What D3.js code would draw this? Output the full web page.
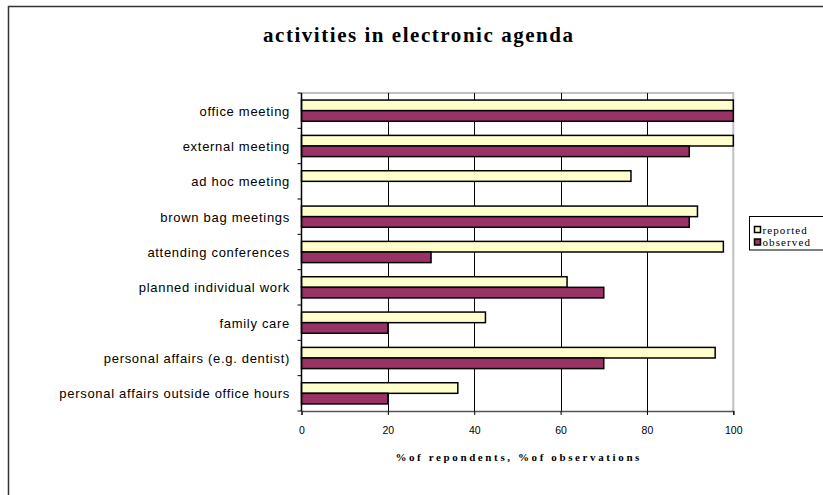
<!DOCTYPE html>
<html>
<head>
<meta charset="utf-8">
<script src="https://cdn.jsdelivr.net/npm/d3@7"></script>
<style>
  html, body { margin: 0; padding: 0; background: #fff; }
  svg { display: block; }
</style>
</head>
<body>
<svg id="chart" width="823" height="495"></svg>
<script>
// Activities recorded in the electronic agenda
const categories = [
  "office meeting",
  "external meeting",
  "ad hoc meeting",
  "brown bag meetings",
  "attending conferences",
  "planned individual work",
  "family care",
  "personal affairs (e.g. dentist)",
  "personal affairs outside office hours"
];
const seriesNames = ["reported", "observed"];
const reported = [100, 100, 76.3, 91.7, 97.7, 61.5, 42.6, 95.8, 36.2];
const observed = [100, 89.8, 0, 89.8, 30, 70, 20, 70, 20];
const xTicks = [0, 20, 40, 60, 80, 100];
const colors = ["#FFFFCC", "#993366"];

const svg = d3.select("#chart");

// outer chart frame
svg.append("rect")
  .attr("x", 8.5).attr("y", 6.5)
  .attr("width", 830).attr("height", 500)
  .attr("fill", "#fff")
  .attr("stroke", "#333").attr("stroke-width", 1.5);

const plot = { left: 301.5, right: 733.3, top: 93, bottom: 411 };

const x = d3.scaleLinear().domain([0, 100]).range([plot.left, plot.right]);
const y = d3.scaleBand().domain(categories).range([plot.top, plot.bottom])
  .paddingInner(0.4).paddingOuter(0.2);
const ySub = d3.scaleBand().domain(seriesNames).range([0, y.bandwidth()]);

// plot area border (top and right)
svg.append("path")
  .attr("d", `M${plot.left},${plot.top}H${plot.right}V${plot.bottom}`)
  .attr("fill", "none").attr("stroke", "#c0c0c0").attr("stroke-width", 2);

// vertical gridlines
svg.append("g").selectAll("line")
  .data(xTicks.filter(t => t > 0 && t < 100))
  .join("line")
  .attr("x1", d => Math.round(x(d)) + 0.5).attr("x2", d => Math.round(x(d)) + 0.5)
  .attr("y1", plot.top).attr("y2", plot.bottom)
  .attr("stroke", "#000").attr("stroke-width", 1);

// bars
const table = categories.map((c, i) => ({ cat: c, values: [reported[i], observed[i]] }));
const groups = svg.append("g").selectAll("g")
  .data(table).join("g")
  .attr("transform", d => `translate(0,${y(d.cat)})`);
groups.selectAll("rect")
  .data(d => d.values.map((v, j) => ({ key: seriesNames[j], v, j })).filter(e => e.v > 0))
  .join("rect")
  .attr("x", x(0))
  .attr("y", d => ySub(d.key))
  .attr("width", d => x(d.v) - x(0))
  .attr("height", ySub.bandwidth())
  .attr("fill", d => colors[d.j])
  .attr("stroke", "#000").attr("stroke-width", 1.5);

// bottom axis
const xAxis = svg.append("g")
  .attr("transform", `translate(0,${plot.bottom})`)
  .call(d3.axisBottom(x).tickValues(xTicks).tickSize(4).tickPadding(12).tickFormat(d3.format("d")));
xAxis.select(".domain").attr("stroke", "#555").attr("stroke-width", 1.5);
xAxis.selectAll(".tick line").attr("stroke", "#000");
xAxis.selectAll("text")
  .attr("font-family", "Liberation Sans, Arial, sans-serif")
  .attr("font-size", 10.5).attr("fill", "#000");

// left axis: line with ticks at the category boundaries
const yAxis = svg.append("g");
yAxis.append("line")
  .attr("x1", plot.left).attr("x2", plot.left)
  .attr("y1", plot.top).attr("y2", plot.bottom)
  .attr("stroke", "#000").attr("stroke-width", 1.5);
const boundaries = d3.range(categories.length + 1).map(i => plot.top + i * (plot.bottom - plot.top) / categories.length);
yAxis.selectAll("line.tick")
  .data(boundaries).join("line")
  .attr("class", "tick")
  .attr("x1", plot.left - 4).attr("x2", plot.left)
  .attr("y1", d => d).attr("y2", d => d)
  .attr("stroke", "#000").attr("stroke-width", 1);

// category labels
svg.append("g").selectAll("text")
  .data(categories).join("text")
  .attr("x", 290)
  .attr("y", d => y(d) + y.bandwidth() / 2)
  .attr("dy", "0.38em")
  .attr("text-anchor", "end")
  .attr("font-family", "Liberation Sans, Arial, sans-serif")
  .attr("font-size", 13)
  .attr("letter-spacing", 0.7)
  .attr("fill", "#000")
  .text(d => d);

// title
svg.append("text")
  .attr("x", 418).attr("y", 42)
  .attr("text-anchor", "middle")
  .attr("font-family", "Liberation Serif, Times New Roman, serif")
  .attr("font-weight", "bold").attr("font-size", 21)
  .attr("textLength", 310).attr("lengthAdjust", "spacing")
  .text("activities in electronic agenda");

// axis title
svg.append("text")
  .attr("x", (plot.left + plot.right) / 2).attr("y", 461)
  .attr("text-anchor", "middle")
  .attr("font-family", "Liberation Serif, Times New Roman, serif")
  .attr("font-weight", "bold").attr("font-size", 11)
  .attr("textLength", 244).attr("lengthAdjust", "spacing")
  .text("%of repondents, %of observations");

// legend
const legend = svg.append("g");
legend.append("rect")
  .attr("x", 749.5).attr("y", 216.5).attr("width", 80).attr("height", 33.5)
  .attr("fill", "#fff").attr("stroke", "#000").attr("stroke-width", 1);
const li = legend.selectAll("g.item").data(seriesNames).join("g")
  .attr("class", "item")
  .attr("transform", (d, i) => `translate(754.5,${230 + i * 12.5})`);
li.append("rect")
  .attr("x", 0).attr("y", -3.5).attr("width", 6).attr("height", 6)
  .attr("fill", (d, i) => colors[i]).attr("stroke", "#000").attr("stroke-width", 1.5);
li.append("text")
  .attr("x", 8).attr("y", 0).attr("dy", "0.33em")
  .attr("font-family", "Liberation Serif, Times New Roman, serif")
  .attr("font-size", 11).attr("letter-spacing", 1.1)
  .text(d => d);
</script>
</body>
</html>
